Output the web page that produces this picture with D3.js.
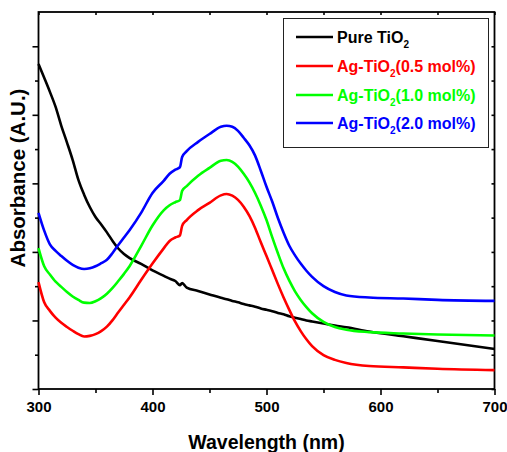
<!DOCTYPE html>
<html><head><meta charset="utf-8">
<script src="https://cdn.jsdelivr.net/npm/d3@7/dist/d3.min.js"></script>
<style>body{margin:0;background:#fff}svg{display:block}text{font-family:Arial,"Liberation Sans",sans-serif;font-weight:bold}</style>
</head><body><svg id="c" width="507" height="452"></svg>
<script>
const wavelength = [300,305,310,315,320,325,330,335,340,345,350,355,360,365,370,375,380,390,400,410,415,420,424,426,430,440,450,460,465,470,475,480,485,490,495,500,505,510,515,520,525,530,535,540,550,560,570,590,620,650,700];
const pureTiO2 = [.948,.908,.867,.823,.768,.719,.668,.610,.567,.531,.502,.480,.457,.432,.410,.394,.382,.365,.346,.330,.322,.315,.303,.309,.296,.286,.276,.266,.262,.257,.253,.248,.244,.240,.235,.231,.227,.222,.218,.212,.208,.204,.200,.197,.191,.185,.180,.168,.154,.140,.117];
const ag05 = [.312,.253,.228,.208,.193,.181,.170,.160,.153,.155,.160,.169,.182,.201,.224,.246,.268,.318,.366,.411,.432,.442,.448,.476,.493,.522,.543,.565,.569,.564,.552,.532,.505,.470,.428,.388,.347,.306,.267,.231,.197,.169,.145,.125,.099,.085,.076,.067,.063,.059,.055];
const ag10 = [.411,.358,.334,.313,.298,.283,.270,.260,.252,.251,.256,.265,.278,.295,.315,.336,.359,.417,.477,.522,.536,.545,.551,.578,.592,.622,.645,.666,.668,.663,.649,.628,.603,.572,.535,.493,.443,.396,.352,.316,.285,.260,.239,.221,.196,.181,.173,.166,.162,.159,.156];
const ag20 = [.514,.462,.422,.403,.388,.374,.362,.354,.350,.352,.358,.367,.377,.397,.420,.442,.464,.514,.572,.608,.628,.640,.647,.677,.694,.721,.744,.765,.768,.765,.753,.733,.711,.681,.637,.590,.547,.499,.456,.418,.390,.366,.345,.327,.300,.283,.273,.267,.264,.260,.257];
const seriesNames = ["Pure TiO", "Ag-TiO", "Ag-TiO", "Ag-TiO"];
const seriesSuffix = ["", "(0.5 mol%)", "(1.0 mol%)", "(2.0 mol%)"];
const seriesColors = ["#000000", "#ff0000", "#00ff00", "#0000ff"];
const xTicks = [300,400,500,600,700];
const xMinor = [350,450,550,650];
const yMajor = [0,0.2,0.4,0.6,0.8,1.0];
const yMinor = [0.1,0.3,0.5,0.7,0.9];

const L=38.5, R=494.5, T=12, B=389;
const svg = d3.select("#c");
const x = d3.scaleLinear().domain([300,700]).range([L,R]);
const y = d3.scaleLinear().domain([0,1.1]).range([B,T]);

function styleAxis(g){ g.select(".domain").remove(); g.selectAll("line").attr("stroke","#000").attr("stroke-width",1.6); }

// bottom
svg.append("g").attr("transform",`translate(0,${B})`).call(d3.axisBottom(x).tickValues(xTicks).tickSize(6).tickPadding(6).tickFormat(d3.format("d")))
  .call(styleAxis).call(g=>g.selectAll("text").attr("font-size",15).attr("fill","#000").attr("font-family","Arial, Liberation Sans, sans-serif").attr("font-weight","bold"));
svg.append("g").attr("transform",`translate(0,${B})`).call(d3.axisBottom(x).tickValues(xMinor).tickSize(4).tickFormat("")).call(styleAxis);
// top (inward)
svg.append("g").attr("transform",`translate(0,${T})`).call(d3.axisTop(x).tickValues(xTicks.concat(xMinor)).tickSize(-3).tickFormat("")).call(styleAxis);
// left
svg.append("g").attr("transform",`translate(${L},0)`).call(d3.axisLeft(y).tickValues(yMajor).tickSize(6).tickFormat("")).call(styleAxis);
svg.append("g").attr("transform",`translate(${L},0)`).call(d3.axisLeft(y).tickValues(yMinor).tickSize(3.5).tickFormat("")).call(styleAxis);
// right (inward)
svg.append("g").attr("transform",`translate(${R},0)`).call(d3.axisRight(y).tickValues(yMajor.concat(yMinor)).tickSize(-3).tickFormat("")).call(styleAxis);

// frame
svg.append("rect").attr("x",L).attr("y",T).attr("width",R-L).attr("height",B-T).attr("fill","none").attr("stroke","#000").attr("stroke-width",1.8);

// curves
const allSeries=[pureTiO2,ag05,ag10,ag20];
const line = d3.line().x((d,i)=>x(wavelength[i])).y(d=>y(d)).curve(d3.curveMonotoneX);
allSeries.forEach((s,k)=>{
  svg.append("path").datum(s).attr("d",line).attr("fill","none").attr("stroke",seriesColors[k]).attr("stroke-width",2.6).attr("stroke-linejoin","round");
});

// legend
svg.append("rect").attr("x",283.5).attr("y",18.5).attr("width",205).attr("height",129).attr("fill","#fff").attr("stroke","#222").attr("stroke-width",1);
const rowY=[37,66,95,123];
seriesNames.forEach((n,k)=>{
  svg.append("line").attr("x1",296).attr("x2",333).attr("y1",rowY[k]).attr("y2",rowY[k]).attr("stroke",seriesColors[k]).attr("stroke-width",2.6);
  const t=svg.append("text").attr("x",337).attr("y",rowY[k]+6).attr("font-size",16).attr("fill",seriesColors[k]);
  t.append("tspan").text(n);
  t.append("tspan").attr("dy",5).attr("font-size",10).text("2");
  if(seriesSuffix[k]) t.append("tspan").attr("dy",-5).text(seriesSuffix[k]);
});

// titles
svg.append("text").attr("x",(L+R)/2).attr("y",449).attr("text-anchor","middle").attr("font-size",19.5).attr("fill","#000").text("Wavelength (nm)");
svg.append("text").attr("transform","translate(25,178) rotate(-90)").attr("text-anchor","middle").attr("font-size",20.5).attr("fill","#000").text("Absorbance (A.U.)");
</script></body></html>
